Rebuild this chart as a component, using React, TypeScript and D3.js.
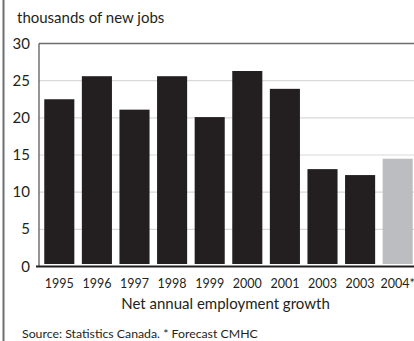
import React from "react";
import * as d3 from "d3";

const categories = ["1995", "1996", "1997", "1998", "1999", "2000", "2001", "2003", "2003 ", "2004*"];
const values = [22.5, 25.6, 21.1, 25.6, 20.1, 26.3, 23.9, 13.1, 12.3, 14.5];
const forecast = [false, false, false, false, false, false, false, false, false, true];
const yTicks = [0, 5, 10, 15, 20, 25, 30];

const W = 414;
const H = 341;
const FONT = "Lato, 'Open Sans', sans-serif";

export default function App() {
  const left = 39;
  const top = 43.5;
  const bottom = 266.5;
  const x = d3.scaleBand<string>().domain(categories).range([40.5, 416.5]).paddingInner(0.2).paddingOuter(0.1);
  const y = d3.scaleLinear().domain([0, 30]).range([bottom, top]);

  return (
    <svg width={W} height={H} style={{ position: "absolute", left: 0, top: 0, display: "block" }}>
      <rect x={0} y={0} width={W} height={H} fill="#fff" />
      <line x1={3.5} x2={3.5} y1={0} y2={H} stroke="#6d6e70" strokeWidth={2} />
      <text x={17} y={23} fontFamily={FONT} fontSize={15} fill="#231f20">thousands of new jobs</text>
      {yTicks.filter((t) => t > 0 && t < 30).map((t) => (
        <line key={"g" + t} x1={left} x2={W} y1={y(t)} y2={y(t)} stroke="#d9d9da" strokeWidth={1.2} />
      ))}
      {categories.map((c, i) => (
        <rect
          key={c}
          x={x(c)}
          y={y(values[i])}
          width={x.bandwidth()}
          height={y(0) - 2.5 - y(values[i])}
          fill={forecast[i] ? "#bcbdc0" : "#231f20"}
        />
      ))}
      <line x1={left} x2={W} y1={top} y2={top} stroke="#6d6e70" strokeWidth={1.5} />
      <line x1={left} x2={left} y1={top} y2={bottom} stroke="#4d4d4f" strokeWidth={1.2} />
      <line x1={36} x2={W} y1={bottom} y2={bottom} stroke="#231f20" strokeWidth={2} />
      {yTicks.map((t) => (
        <text key={"t" + t} x={30} y={y(t) + 5} textAnchor="end" fontFamily={FONT} fontSize={15} fill="#231f20">
          {t}
        </text>
      ))}
      {categories.map((c) => (
        <text key={"l" + c} x={(x(c) as number) + x.bandwidth() / 2} y={288} textAnchor="middle" fontFamily={FONT} fontSize={12.5} fill="#231f20">
          {c.trim()}
        </text>
      ))}
      <text x={225.5} y={309} textAnchor="middle" fontFamily={FONT} fontSize={15} fill="#231f20">Net annual employment growth</text>
      <text x={22} y={338} fontFamily={FONT} fontSize={12.3} fill="#231f20">Source: Statistics Canada. * Forecast CMHC</text>
    </svg>
  );
}
